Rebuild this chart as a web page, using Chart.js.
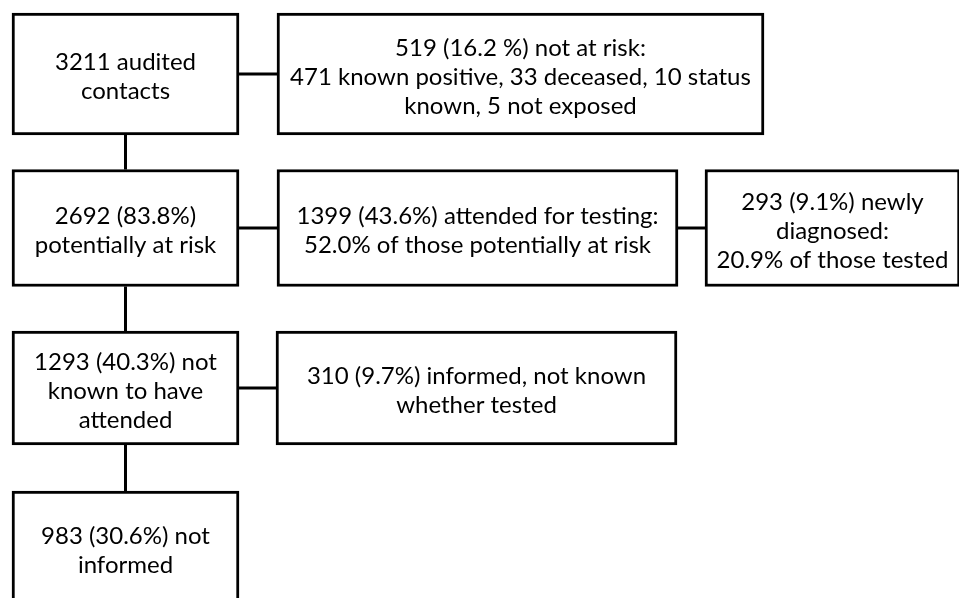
<!DOCTYPE html>
<html>
<head>
<meta charset="utf-8">
<script src="https://cdn.jsdelivr.net/npm/chart.js@4.4.1/dist/chart.umd.min.js"></script>
<style>
  html, body { margin: 0; padding: 0; background: #fff; }
  #wrap { width: 959px; height: 598px; }
</style>
</head>
<body>
<div id="wrap"><canvas id="flow"></canvas></div>
<script>
// contact audit flow: text for each box
const boxText = [
    ['3211 audited', 'contacts'],
    ['519 (16.2 %) not at risk:', '471 known positive, 33 deceased, 10 status', 'known, 5 not exposed'],
    ['2692 (83.8%)', 'potentially at risk'],
    ['1399 (43.6%) attended for testing:', '52.0% of those potentially at risk'],
    ['293 (9.1%) newly', 'diagnosed:', '20.9% of those tested'],
    ['1293 (40.3%) not', 'known to have', 'attended'],
    ['310 (9.7%) informed, not known', 'whether tested'],
    ['983 (30.6%) not', 'informed']
];
// which box leads to which
const links = [[0, 1], [0, 2], [2, 3], [3, 4], [2, 5], [5, 6], [5, 7]];

// layout (scale units == px here)
const rowCenter = [74, 228, 388, 548];
const rowHeight = [122, 117, 114, 114];
const boxRow = [0, 0, 1, 1, 1, 2, 2, 3];
const boxSpan = [[12, 239], [277, 764], [12, 239], [277, 678], [705, 960], [12, 239], [276, 677], [12, 239]];

const datasets = [];

// connectors first so the boxes sit on top
links.forEach(([a, b]) => {
    let pts;
    if (boxRow[a] === boxRow[b]) {
        const y = rowCenter[boxRow[a]];
        pts = [{x: boxSpan[a][1], y: y}, {x: boxSpan[b][0], y: y}];
    } else {
        const x = (boxSpan[a][0] + boxSpan[a][1]) / 2;
        pts = [
            {x: x, y: rowCenter[boxRow[a]] + rowHeight[boxRow[a]] / 2},
            {x: x, y: rowCenter[boxRow[b]] - rowHeight[boxRow[b]] / 2}
        ];
    }
    datasets.push({
        type: 'line',
        data: pts,
        borderColor: '#000',
        borderWidth: 3,
        pointRadius: 0,
        borderCapStyle: 'butt'
    });
});

// one floating bar per box
boxText.forEach((lines, i) => {
    datasets.push({
        type: 'bar',
        indexAxis: 'y',
        label: lines.join(' '),
        data: [{y: rowCenter[boxRow[i]], x: boxSpan[i]}],
        barThickness: rowHeight[boxRow[i]],
        grouped: false,
        backgroundColor: '#fff',
        borderColor: '#000',
        borderWidth: 3,
        borderSkipped: false,
        boxText: lines
    });
});

const boxLabels = {
    id: 'boxLabels',
    afterDatasetsDraw(chart) {
        const ctx = chart.ctx;
        ctx.save();
        ctx.fillStyle = '#000';
        ctx.font = '24px Lato';
        ctx.textAlign = 'center';
        ctx.textBaseline = 'middle';
        chart.data.datasets.forEach((ds, di) => {
            if (!ds.boxText) return;
            const bar = chart.getDatasetMeta(di).data[0];
            const p = bar.getProps(['x', 'y', 'base'], true);
            const cx = (p.x + p.base) / 2;
            const lh = 29;
            // text sits a touch below the middle, like the original
            const top = p.y + 3 - (ds.boxText.length - 1) * lh / 2;
            ds.boxText.forEach((t, k) => ctx.fillText(t, cx, top + k * lh));
        });
        ctx.restore();
    }
};

new Chart(document.getElementById('flow'), {
    data: {datasets: datasets},
    options: {
        responsive: true,
        maintainAspectRatio: false,
        animation: false,
        layout: {padding: 0},
        plugins: {legend: {display: false}, tooltip: {enabled: false}},
        scales: {
            x: {type: 'linear', min: 0, max: 959, offset: false, display: false},
            y: {type: 'linear', min: 0, max: 598, offset: false, reverse: true, display: false}
        }
    },
    plugins: [boxLabels]
});
</script>
</body>
</html>
